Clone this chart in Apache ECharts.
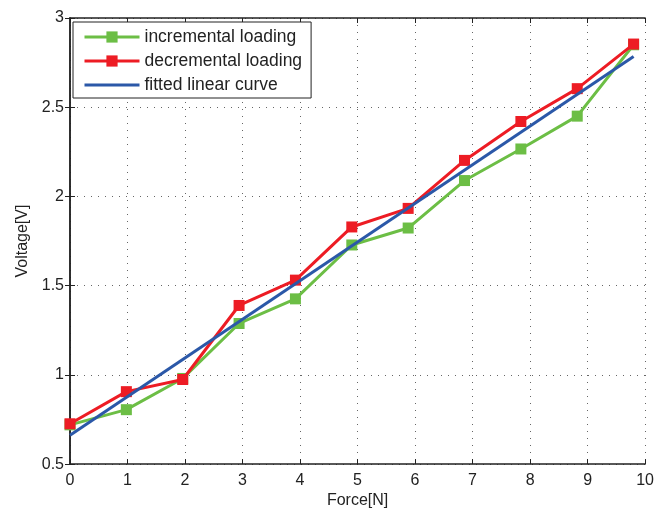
<!doctype html>
<html lang="en">
<head>
    <meta charset="UTF-8">
    <title>Voltage vs Force</title>
    <script type="text/javascript" src="https://cdn.jsdelivr.net/npm/echarts@6/dist/echarts.min.js"></script>
    <style>
        html, body { margin: 0; padding: 0; background: #fff; }
        #main { width: 657px; height: 514px; }
    </style>
</head>
<body>
<div id="main"></div>
<script type="text/javascript">
    // 数据
    var force = [0, 0.98, 1.96, 2.94, 3.92, 4.90, 5.88, 6.86, 7.84, 8.82, 9.80];
    var incremental = [0.72, 0.805, 0.98, 1.288, 1.426, 1.728, 1.823, 2.089, 2.266, 2.45, 2.85];
    var decremental = [0.726, 0.906, 0.974, 1.389, 1.531, 1.829, 1.933, 2.202, 2.42, 2.604, 2.854];
    var fitForce = [0, 9.8];
    var fitVoltage = [0.662, 2.784];
    var seriesNames = ['incremental loading', 'decremental loading', 'fitted linear curve'];

    function pairs(xs, ys) {
        var out = [];
        for (var i = 0; i < xs.length; i++) {
            out.push([xs[i], ys[i]]);
        }
        return out;
    }

    var font = "'Liberation Sans', Arial, sans-serif";
    var axisColor = '#222';

    var myChart = echarts.init(document.getElementById('main'));
    myChart.setOption({
        animation: false,
        backgroundColor: '#fff',
        grid: { left: 70, right: 11, top: 18, bottom: 43 },
        legend: {
            data: [
                seriesNames[0],
                seriesNames[1],
                // the fitted line has no markers, hide the legend symbol
                { name: seriesNames[2], itemStyle: { opacity: 0 } }
            ],
            orient: 'vertical',
            left: 73,
            top: 22,
            itemWidth: 55,
            itemHeight: 14,
            itemGap: 4,
            padding: [5, 9, 3, 10],
            borderColor: axisColor,
            borderWidth: 1,
            backgroundColor: '#fff',
            lineStyle: { width: 3 },
            textStyle: { fontFamily: font, fontSize: 17.5, color: '#222', lineHeight: 20 }
        },
        xAxis: [
            {
                type: 'value',
                min: 0,
                max: 10,
                interval: 1,
                name: 'Force[N]',
                nameLocation: 'middle',
                nameGap: 27,
                nameTextStyle: { fontFamily: font, fontSize: 16, color: '#222' },
                axisLine: { lineStyle: { color: axisColor, width: 1.5 } },
                axisTick: { inside: true, length: 5, lineStyle: { color: axisColor } },
                axisLabel: { fontFamily: font, fontSize: 16, color: '#222', margin: 8 },
                splitLine: { show: true, lineStyle: { color: '#666', type: [1, 6], width: 1 } }
            },
            {
                type: 'value',
                position: 'top',
                min: 0,
                max: 10,
                interval: 1,
                axisLine: { lineStyle: { color: axisColor, width: 1.5 } },
                axisTick: { inside: true, length: 5, lineStyle: { color: axisColor } },
                axisLabel: { show: false },
                splitLine: { show: false }
            }
        ],
        yAxis: [
            {
                type: 'value',
                min: 0.5,
                max: 3,
                interval: 0.5,
                name: 'Voltage[V]',
                nameLocation: 'middle',
                nameGap: 38,
                nameTextStyle: { fontFamily: font, fontSize: 16, color: '#222' },
                axisLine: { show: true, lineStyle: { color: axisColor, width: 1.5 } },
                axisTick: { show: true, inside: true, length: 5, lineStyle: { color: axisColor } },
                axisLabel: { fontFamily: font, fontSize: 16, color: '#222', margin: 6 },
                splitLine: { show: true, lineStyle: { color: '#666', type: [1, 6], width: 1 } }
            },
            {
                type: 'value',
                position: 'right',
                min: 0.5,
                max: 3,
                interval: 0.5,
                axisLine: { show: true, lineStyle: { color: axisColor, width: 1.5 } },
                axisTick: { show: true, inside: true, length: 5, lineStyle: { color: axisColor } },
                axisLabel: { show: false },
                splitLine: { show: false }
            }
        ],
        series: [
            {
                name: seriesNames[0],
                type: 'line',
                data: pairs(force, incremental),
                symbol: 'rect',
                symbolSize: 11,
                lineStyle: { color: '#6cbe45', width: 3 },
                itemStyle: { color: '#6cbe45' },
                z: 2
            },
            {
                name: seriesNames[1],
                type: 'line',
                data: pairs(force, decremental),
                symbol: 'rect',
                symbolSize: 11,
                lineStyle: { color: '#ed1c24', width: 3 },
                itemStyle: { color: '#ed1c24' },
                z: 3
            },
            {
                name: seriesNames[2],
                type: 'line',
                data: pairs(fitForce, fitVoltage),
                symbol: 'none',
                lineStyle: { color: '#2b58a8', width: 3 },
                itemStyle: { color: '#2b58a8' },
                z: 4
            }
        ]
    });
</script>
</body>
</html>
